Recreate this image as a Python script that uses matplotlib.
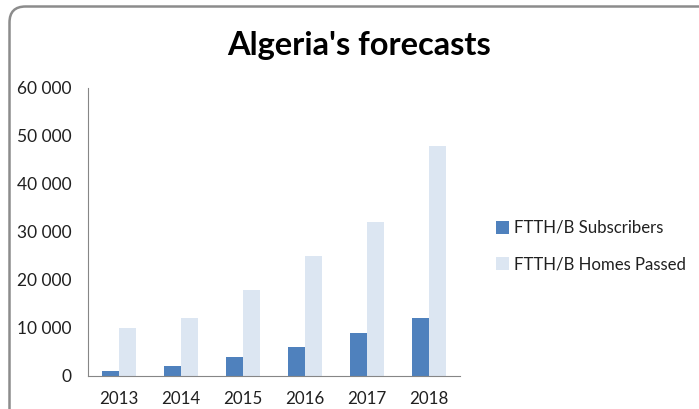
import matplotlib.pyplot as plt
from matplotlib.patches import FancyBboxPatch
from matplotlib.ticker import FuncFormatter
import numpy as np

years = ["2013", "2014", "2015", "2016", "2017", "2018"]
subscribers = [1000, 2000, 4000, 6000, 9000, 12000]
homes_passed = [10000, 12000, 18000, 25000, 32000, 48000]

plt.rcParams['font.family'] = ['Lato', 'DejaVu Sans']

W, H = 699, 409
fig = plt.figure(figsize=(W / 100, H / 100), dpi=100)

# outer rounded frame, drawn in pixel coords
bg = fig.add_axes([0, 0, 1, 1], zorder=0)
bg.set_xlim(0, W)
bg.set_ylim(H, 0)
bg.axis("off")
bg.add_patch(FancyBboxPatch((9.5, 6.5), 730, 460,
                            boxstyle="round,pad=0,rounding_size=16",
                            fc="white", ec="#8c8c8c", lw=1.8))

ax = fig.add_axes([88 / W, 1 - 376 / H, (460 - 88) / W, (376 - 88) / H], zorder=1)
ax.patch.set_alpha(0)

x = np.arange(len(years))
bw = 0.28
ax.bar(x - bw / 2, subscribers, bw, color="#4F81BD", label="FTTH/B Subscribers")
ax.bar(x + bw / 2, homes_passed, bw, color="#DCE6F2", label="FTTH/B Homes Passed")

ax.set_xlim(-0.5, len(years) - 0.5)
ax.set_ylim(0, 60000)
ax.set_yticks(range(0, 60001, 10000))
ax.yaxis.set_major_formatter(FuncFormatter(lambda v, p: "{:,}".format(int(v)).replace(",", " ")))
ax.set_xticks(x)
ax.set_xticklabels(years)

for s in ["top", "right"]:
    ax.spines[s].set_visible(False)
ax.spines["left"].set_color("#868686")
ax.spines["bottom"].set_color("#868686")
ax.tick_params(axis="both", length=0, colors="#202020")
ax.tick_params(axis="y", pad=12, labelsize=12.5)
ax.tick_params(axis="x", pad=11, labelsize=12.2)

fig.text(359 / W, 1 - 45 / H, "Algeria's forecasts", ha="center", va="center",
         fontsize=23.5, fontweight="bold", color="black")

fig.legend(loc="center left", bbox_to_anchor=(496 / W, 1 - 246 / H), frameon=False,
           borderaxespad=0, borderpad=0,
           fontsize=12.1, handlelength=0.8, handleheight=0.8, handletextpad=0.3,
           labelspacing=1.2, labelcolor="#202020")

fig.savefig("out.png", dpi=100)
